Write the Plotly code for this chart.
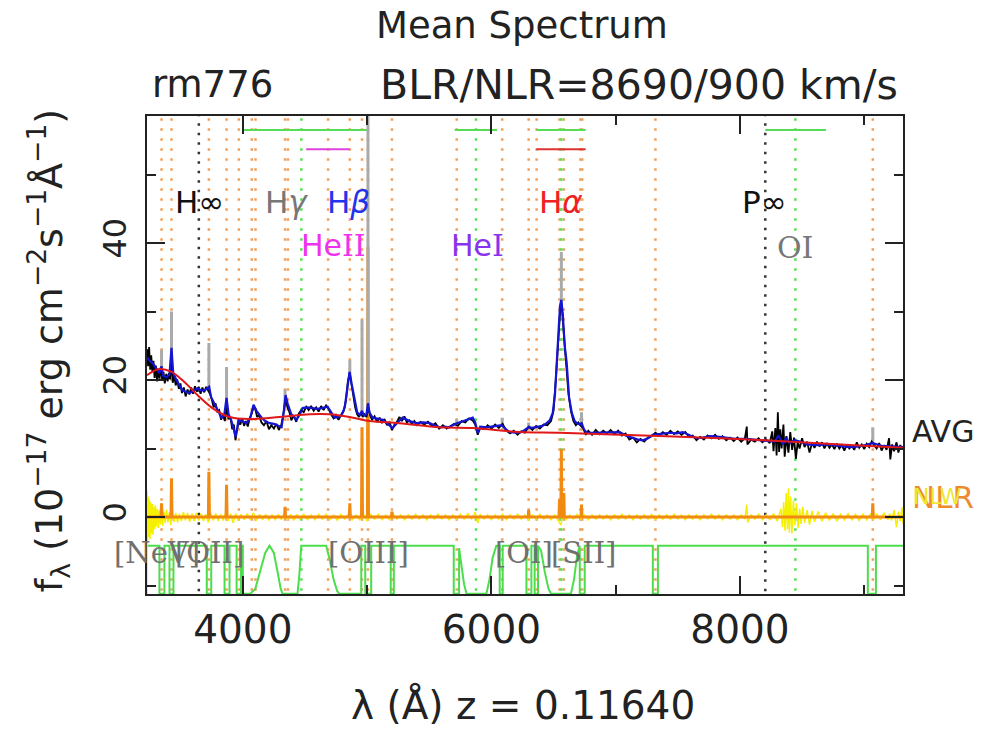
import plotly.graph_objects as go

# ---------------- data ----------------
# observed mean spectrum (AVG), rest-frame wavelength in Angstrom
avg_wave = [3229, 3238, 3246, 3255, 3263, 3272, 3281, 3290, 3300, 3310, 3320, 3330, 3340, 3352, 3362, 3372,
            3384, 3395, 3405, 3415, 3426, 3436, 3448, 3460, 3472, 3485, 3498, 3510, 3525, 3540, 3555, 3570,
            3585, 3600, 3615, 3630, 3645, 3660, 3675, 3690, 3705, 3720, 3735, 3750, 3765, 3780, 3795, 3810,
            3825, 3840, 3855, 3870, 3885, 3900, 3915, 3928, 3941, 3952, 3965, 3980, 3995, 4010, 4025, 4040,
            4055, 4070, 4086, 4100, 4115, 4130, 4150, 4170, 4190, 4210, 4230, 4250, 4270, 4290, 4310, 4325,
            4344, 4360, 4375, 4390, 4410, 4430, 4450, 4470, 4490, 4510, 4530, 4550, 4570, 4590, 4610, 4630,
            4650, 4670, 4690, 4710, 4730, 4750, 4770, 4790, 4810, 4830, 4845, 4860, 4875, 4890, 4905, 4920,
            4935, 4950, 4965, 4980, 4995, 5010, 5025, 5040, 5060, 5080, 5100, 5120, 5140, 5160, 5180, 5200,
            5220, 5240, 5260, 5280, 5300, 5320, 5340, 5360, 5380, 5400, 5430, 5460, 5490, 5520, 5550, 5580,
            5610, 5640, 5670, 5700, 5730, 5760, 5790, 5820, 5850, 5870, 5890, 5910, 5940, 5970, 6000, 6030,
            6060, 6090, 6120, 6150, 6180, 6210, 6240, 6270, 6300, 6330, 6360, 6390, 6420, 6450, 6480, 6500,
            6520, 6540, 6555, 6565, 6580, 6600, 6620, 6640, 6660, 6680, 6700, 6720, 6740, 6760, 6780, 6810,
            6840, 6870, 6900, 6930, 6960, 6990, 7020, 7050, 7080, 7110, 7140, 7170, 7200, 7230, 7260, 7290,
            7320, 7350, 7380, 7410, 7440, 7470, 7500, 7530, 7560, 7590, 7620, 7650, 7680, 7710, 7740, 7770,
            7800, 7830, 7860, 7890, 7920, 7950, 7980, 8010, 8040, 8055, 8060, 8090, 8120, 8150, 8180, 8210,
            8240, 8260, 8270, 8285, 8295, 8305, 8315, 8325, 8335, 8350, 8360, 8375, 8390, 8405, 8420, 8435,
            8450, 8465, 8480, 8500, 8520, 8540, 8560, 8580, 8600, 8620, 8640, 8660, 8680, 8700, 8720, 8740,
            8760, 8780, 8800, 8820, 8840, 8860, 8880, 8900, 8920, 8940, 8960, 8980, 9000, 9020, 9040, 9060,
            9080, 9100, 9120, 9140, 9160, 9180, 9200, 9210, 9225, 9240, 9260, 9275, 9290, 9305, 9312]
avg_flux = [24.5, 22.0, 24.8, 21.5, 23.6, 21.2, 22.8, 20.3, 22.1, 19.8, 21.6, 20.2, 21.9, 20.0, 21.2, 19.5,
            20.9, 19.8, 21.0, 20.1, 23.0, 19.6, 20.6, 19.2, 20.1, 18.7, 19.5, 18.1, 18.9, 17.6, 18.6, 17.9,
            18.9, 18.0, 19.1, 18.3, 19.0, 18.0, 18.9, 18.2, 19.0, 18.5, 18.0, 17.2, 16.0, 16.6, 15.4, 15.6,
            14.2, 14.9, 14.0, 16.0, 14.3, 14.6, 12.8, 13.5, 11.2, 12.6, 13.8, 13.5, 14.4, 13.3, 14.0, 13.2,
            14.4, 15.0, 16.0, 15.8, 14.6, 14.9, 13.8, 13.4, 14.0, 12.8, 13.4, 12.9, 13.6, 12.7, 13.5, 14.8,
            17.2, 16.0, 15.3, 14.1, 14.8, 13.9, 15.1, 15.6, 15.3, 16.1, 15.6, 16.2, 15.5, 16.0, 15.4, 16.2,
            15.6, 16.3, 15.8, 15.0, 14.4, 14.9, 14.2, 14.9, 15.4, 17.0, 19.8, 21.0, 19.3, 17.6, 15.9, 15.0,
            14.6, 15.2, 14.6, 15.0, 14.6, 16.0, 14.8, 14.2, 14.7, 13.9, 14.5, 13.8, 14.3, 13.4, 13.9, 12.7,
            13.5, 13.9, 14.6, 14.0, 14.7, 13.8, 14.1, 13.6, 14.0, 13.4, 13.9, 13.5, 13.9, 13.3, 13.7, 12.9,
            13.4, 12.9, 13.2, 13.6, 13.3, 14.0, 13.8, 14.4, 14.1, 13.5, 12.0, 13.0, 12.8, 13.4, 12.9, 13.5,
            13.0, 13.6, 12.6, 12.2, 12.6, 12.0, 12.5, 12.3, 13.2, 12.7, 13.3, 12.9, 13.5, 13.4, 14.0, 15.5,
            20.5, 27.0, 30.5, 31.0, 27.5, 23.0, 18.0, 15.5, 14.0, 13.4, 13.8, 13.3, 12.9, 12.0, 12.6, 12.0,
            12.7, 12.1, 12.6, 12.2, 12.7, 12.1, 12.6, 11.9, 12.2, 11.3, 11.6, 10.9, 11.4, 11.0, 11.6, 11.8,
            12.3, 11.9, 12.4, 12.0, 12.6, 12.1, 12.5, 12.0, 12.4, 11.7, 11.9, 11.2, 11.7, 11.3, 11.9, 11.5,
            12.0, 11.4, 11.8, 11.2, 11.6, 11.1, 11.6, 11.0, 11.5, 13.2, 10.6, 11.3, 11.0, 11.5, 10.9, 11.3,
            10.8, 12.5, 9.6, 13.0, 9.0, 15.3, 9.5, 12.8, 10.0, 13.5, 8.8, 11.8, 9.4, 12.4, 9.8, 11.6,
            8.5, 11.0, 10.0, 11.5, 10.2, 11.0, 9.4, 10.8, 10.1, 11.0, 10.3, 10.9, 10.0, 10.8, 10.1, 10.6,
            9.9, 10.7, 10.0, 10.5, 9.7, 10.6, 10.0, 10.4, 9.8, 10.9, 10.1, 10.6, 9.9, 10.7, 10.2, 11.0,
            10.4, 10.0, 10.8, 9.7, 10.5, 9.8, 11.5, 8.4, 10.6, 9.6, 10.9, 9.4, 10.5, 9.9, 10.3]

# smoothed model (continuum + broad lines)
model_wave = [3229, 3250, 3273, 3300, 3329, 3346, 3360, 3386, 3410, 3426, 3440, 3466, 3490, 3514, 3540, 3571,
              3600, 3635, 3660, 3692, 3715, 3729, 3745, 3770, 3788, 3810, 3829, 3850, 3869, 3885, 3905, 3925,
              3941, 3955, 3965, 3990, 4030, 4060, 4086, 4110, 4151, 4180, 4215, 4250, 4271, 4312, 4330, 4344,
              4360, 4390, 4432, 4460, 4481, 4520, 4561, 4600, 4634, 4682, 4710, 4738, 4770, 4795, 4820, 4840,
              4859, 4875, 4899, 4920, 4940, 4959, 4975, 4995, 5007, 5020, 5044, 5085, 5125, 5165, 5205, 5245,
              5286, 5340, 5398, 5450, 5503, 5540, 5584, 5620, 5660, 5700, 5721, 5760, 5800, 5850, 5870, 5890,
              5910, 5962, 6000, 6040, 6083, 6110, 6147, 6190, 6227, 6260, 6300, 6330, 6365, 6410, 6445, 6470,
              6494, 6512, 6526, 6540, 6552, 6563, 6575, 6590, 6606, 6625, 6647, 6670, 6687, 6710, 6727, 6745,
              6767, 6820, 6896, 6960, 7033, 7080, 7138, 7180, 7218, 7260, 7299, 7360, 7436, 7490, 7540, 7600,
              7653, 7700, 7760, 7838, 7900, 7960, 8055, 8120, 8216, 8280, 8310, 8345, 8370, 8400, 8440, 8482,
              8540, 8618, 8700, 8800, 8884, 8960, 9069, 9140, 9206, 9286, 9312]
model_flux = [23.3, 22.8, 22.5, 21.8, 21.0, 22.0, 20.6, 20.4, 20.8, 24.7, 21.0, 20.0, 19.3, 18.5, 18.3, 18.1,
              18.4, 18.8, 18.5, 18.5, 18.8, 19.0, 17.5, 16.6, 16.0, 15.2, 14.5, 14.8, 17.4, 15.0, 14.2, 13.0,
              11.7, 13.0, 14.2, 14.0, 13.7, 14.5, 16.4, 15.5, 14.5, 14.0, 13.7, 13.6, 13.4, 13.1, 15.5, 17.8,
              16.6, 15.0, 14.2, 15.0, 15.9, 16.0, 15.9, 15.8, 15.9, 16.1, 15.3, 14.5, 14.6, 14.9, 16.0, 18.5,
              21.2, 19.5, 17.1, 15.3, 14.9, 15.5, 14.8, 15.0, 16.6, 15.2, 14.5, 14.3, 14.2, 13.6, 13.0, 13.8,
              14.5, 14.0, 13.7, 13.8, 13.7, 13.4, 13.1, 13.2, 13.1, 13.5, 13.7, 13.9, 14.2, 14.5, 13.8, 12.3,
              13.2, 13.1, 13.2, 13.3, 13.4, 12.9, 12.4, 12.3, 12.3, 12.6, 13.1, 13.0, 13.1, 13.3, 13.7, 14.1,
              15.2, 18.0, 22.5, 27.5, 30.8, 31.7, 29.5, 25.0, 22.5, 17.5, 15.2, 14.0, 13.7, 13.5, 13.7, 12.8,
              12.3, 12.3, 12.3, 12.4, 12.4, 11.9, 11.5, 11.3, 11.2, 11.5, 12.0, 12.1, 12.3, 12.2, 12.4, 11.9,
              11.5, 11.6, 11.8, 11.7, 11.5, 11.4, 11.4, 11.3, 11.2, 11.0, 11.9, 10.6, 11.5, 10.8, 11.2, 11.0,
              10.6, 10.5, 10.6, 10.4, 10.2, 10.3, 10.8, 10.4, 10.3, 10.2, 10.2]

# fitted continuum
cont_wave = [3229, 3329, 3426, 3530, 3635, 3755, 3893, 4054, 4296, 4537, 4698, 4859, 5020, 5262, 5584,
             5850, 6227, 6550, 7033, 7838, 8200, 8884, 9312]
cont_flux = [20.7, 21.6, 21.2, 19.7, 17.8, 15.9, 14.6, 14.3, 14.6, 15.0, 15.0, 14.6, 14.0, 13.7, 13.1,
             13.0, 12.4, 12.3, 12.0, 11.5, 11.2, 10.5, 10.1]

# narrow emission lines: wavelength, base level, peak of model with narrow lines
narrow_wave = [3346, 3426, 3727, 3869, 4340, 4861, 4959, 5007, 5721, 6087, 6300, 6563, 6725, 9069]
narrow_base = [21.5, 21.5, 18.5, 15.5, 16.0, 20.0, 15.0, 15.0, 13.5, 13.2, 13.0, 31.0, 13.5, 10.6]
narrow_peak = [24.4, 30.0, 25.4, 21.9, 18.6, 22.9, 28.8, 62.0, 14.3, 14.5, 13.8, 38.7, 15.3, 13.1]

# NLR component: narrow line fluxes above zero
nlr_wave = [3346, 3426, 3727, 3869, 4340, 4861, 4959, 5007, 5200, 6300, 6548, 6563, 6583, 6725, 9069]
nlr_peak = [2.0, 5.6, 6.6, 4.7, 1.5, 2.0, 13.1, 39.5, 0.8, 1.0, 2.5, 9.9, 3.5, 1.8, 2.0]

# residual (yellow) around the NLR level
resid_wave = [3229, 3229, 3233, 3238, 3243, 3248, 3253, 3259, 3265, 3271, 3277, 3283, 3290, 3297, 3304, 3312,
              3320, 3328, 3337, 3346, 3355, 3365, 3375, 3386, 3397, 3409, 3420, 3433, 3446, 3460, 3475, 3490,
              3506, 3522, 3538, 3555, 3572, 3590, 3608, 3626, 3645, 3664, 3683, 3702, 3722, 3742, 3762, 3782,
              3802, 3822, 3842, 3862, 3882, 3902, 3922, 3942, 3962, 3985, 4010, 4035, 4060, 4085, 4110, 4135,
              4160, 4185, 4210, 4235, 4260, 4285, 4310, 4335, 4360, 4385, 4410, 4435, 4460, 4490, 4520, 4550,
              4580, 4610, 4640, 4670, 4700, 4730, 4760, 4790, 4820, 4850, 4880, 4910, 4940, 4970, 5000, 5030,
              5060, 5090, 5120, 5150, 5180, 5210, 5240, 5270, 5300, 5330, 5360, 5390, 5420, 5450, 5480, 5510,
              5540, 5570, 5600, 5630, 5660, 5690, 5720, 5750, 5780, 5810, 5840, 5870, 5890, 5910, 5940, 5970,
              6000, 6030, 6060, 6090, 6120, 6150, 6180, 6210, 6240, 6270, 6300, 6330, 6360, 6390, 6420, 6450,
              6480, 6510, 6540, 6560, 6575, 6600, 6630, 6660, 6690, 6720, 6750, 6780, 6810, 6840, 6870, 6900,
              6930, 6960, 6990, 7020, 7050, 7080, 7110, 7140, 7170, 7200, 7230, 7260, 7290, 7320, 7350, 7380,
              7410, 7440, 7470, 7500, 7530, 7560, 7590, 7620, 7650, 7680, 7710, 7740, 7770, 7800, 7830, 7860,
              7890, 7920, 7950, 7980, 8010, 8040, 8055, 8062, 8090, 8120, 8150, 8180, 8210, 8240, 8270, 8300,
              8330, 8342, 8352, 8362, 8372, 8382, 8390, 8398, 8408, 8418, 8430, 8442, 8455, 8468, 8480, 8492,
              8505, 8520, 8540, 8560, 8580, 8600, 8630, 8660, 8690, 8720, 8750, 8780, 8810, 8840, 8870, 8900,
              8930, 8960, 8990, 9020, 9050, 9075, 9100, 9130, 9160, 9190, 9205, 9220, 9240, 9260, 9275, 9290,
              9305, 9312, 9312]
resid_flux = [-12.0, 3.9, -3.6, 3.0, -2.9, 2.6, -3.2, 2.2, -2.4, 1.9, -2.6, 1.5, -1.8, 1.7, -1.4, 1.2,
              -1.6, 1.0, -1.1, 0.9, -1.3, 0.8, -0.9, 1.1, -0.8, 0.7, -1.2, 0.9, -0.7, 0.6, -0.8, 0.5,
              -0.6, 0.7, -0.5, 0.6, -0.7, 0.5, -0.6, 0.6, -0.5, 0.5, -0.6, 0.4, -0.8, 0.6, -0.5, 0.5,
              -0.6, 0.4, -0.5, 0.6, -0.6, 0.5, -0.9, 0.5, -0.5, 0.4, -0.4, 0.5, -0.4, 0.6, -0.5, 0.4,
              -0.4, 0.4, -0.5, 0.3, -0.4, 0.4, -0.4, 0.6, -0.4, 0.4, -0.5, 0.4, -0.3, 0.4, -0.4, 0.3,
              -0.4, 0.4, -0.3, 0.4, -0.4, 0.3, -0.5, 0.4, -0.3, 0.5, -0.4, 0.3, -0.4, 0.4, -0.6, 0.4,
              -0.3, 0.4, -0.4, 0.3, -0.4, 0.4, -0.3, 0.3, -0.4, 0.3, -0.3, 0.4, -0.3, 0.3, -0.4, 0.3,
              -0.3, 0.4, -0.3, 0.3, -0.4, 0.3, -0.3, 0.4, -0.3, 0.5, -0.3, 0.7, -0.9, 0.4, -0.3, 0.3,
              -0.4, 0.3, -0.3, 0.4, -0.4, 0.3, -0.3, 0.4, -0.3, 0.3, -0.4, 0.3, -0.3, 0.4, -0.3, 0.3,
              -0.4, 0.3, -0.5, -1.2, 0.6, -0.4, 0.3, -0.3, 0.4, -0.3, 0.3, -0.4, 0.3, -0.3, 0.3, -0.3,
              0.3, -0.4, 0.3, -0.3, 0.4, -0.3, 0.3, -0.4, 0.3, -0.3, 0.3, -0.3, 0.4, -0.4, 0.3, -0.3,
              0.3, -0.3, 0.4, -0.3, 0.3, -0.4, 0.3, -0.3, 0.3, -0.4, 0.3, -0.3, 0.4, -0.3, 0.3, -0.4,
              0.3, -0.3, 0.3, -0.4, 0.3, -0.3, 1.8, -0.8, 0.3, -0.3, 0.4, -0.4, 0.3, -0.4, 0.5, -0.6,
              1.2, -1.5, 2.2, -2.0, 3.5, -1.8, 4.2, -2.3, 3.0, -2.4, 2.4, -1.2, 2.0, -1.6, 1.2, -1.0,
              1.5, -0.9, 1.0, -1.1, 0.9, -0.7, 0.8, -0.6, 0.6, -0.5, 0.5, -0.6, 0.4, -0.4, 0.5, -0.4,
              0.4, -0.5, 0.4, -0.4, 0.5, -0.4, 0.5, -0.4, 0.6, -0.4, 0.5, -0.5, 1.0, -1.5, 0.8, -0.6,
              1.4, -1.0, 0.6, -0.5, 15.2, -12.0]

# fitting mask (1 = used, 0 = masked)
mask_wave = [3229, 3329, 3329, 3369, 3369, 3410, 3410, 3442, 3442, 3710, 3710, 3746, 3746, 3853, 3853, 3893,
             3893, 3950, 3950, 3985, 3985, 4000, 4000, 4060, 4100, 4140, 4180, 4215, 4250, 4280, 4305, 4320,
             4440, 4455, 4470, 4671, 4700, 4730, 4760, 4778, 4953, 4953, 4985, 4985, 5033, 5033, 5190, 5190,
             5215, 5215, 5697, 5697, 5740, 5740, 5760, 5780, 5800, 5960, 5985, 6010, 6040, 6067, 6067, 6091,
             6091, 6282, 6282, 6322, 6322, 6348, 6348, 6375, 6375, 6400, 6430, 6460, 6480, 6640, 6665, 6690,
             6711, 6711, 6751, 6751, 7299, 7299, 7340, 7340, 9029, 9029, 9094, 9094, 9312]
mask_val = [1, 1, 0, 0, 1, 1, 0, 0, 1, 1, 0, 0, 1, 1, 0, 0,
            1, 1, 0, 0, 1, 1, 0, 0, 0.1, 0.45, 0.85, 1.0, 0.85, 0.45, 0.1, 0,
            0, 0.4, 1, 1, 0.7, 0.3, 0.05, 0, 0, 1, 1, 0, 0, 1, 1, 0,
            0, 1, 1, 0, 0, 0.95, 0.6, 0.2, 0, 0, 0.3, 0.75, 1, 1, 0, 0,
            1, 1, 0, 0, 1, 1, 0, 0, 1, 0.9, 0.45, 0.1, 0, 0, 0.3, 0.8,
            1, 0, 0, 1, 1, 0, 0, 1, 1, 0, 0, 1, 1]

# line markers
orange_lines = [3346, 3426, 3727, 3869, 3968, 4072, 4102, 4340, 4363, 4686, 4861, 4959, 5007, 5200, 5721,
                6087, 6300, 6364, 6548, 6583, 6716, 6731, 7320, 9069]
green_lines = [4471, 5876, 6563, 8446]
limit_lines = [3646, 8204]

# line-fitting windows at the top
green_windows = [(4000, 5007), (5705, 6045), (6362, 6759), (8204, 8692)]
heii_window = (4510, 4859)
halpha_window = (6362, 6759)

X_RANGE = [3229, 9312]
Y_RANGE = [-11.24, 58.54]
FONT = "DejaVu Sans"
ROMAN = "DejaVu Serif"


def roman(s):
    return '<span style="font-family:%s">%s</span>' % (ROMAN, s)


fig = go.Figure()


def vlines(waves, color, dash, width):
    xs, ys = [], []
    for w in waves:
        xs += [w, w, None]
        ys += [Y_RANGE[0] - 1, Y_RANGE[1] + 1, None]
    fig.add_trace(go.Scatter(x=xs, y=ys, mode="lines", hoverinfo="skip",
                             line=dict(color=color, width=width, dash=dash)))


vlines(orange_lines, "#F2A05A", "2.5px,7.5px", 2.5)
vlines(green_lines, "#55E055", "2.5px,7.5px", 2.5)
vlines(limit_lines, "#333333", "2.5px,7px", 2.5)


def hbars(windows, level, color):
    xs, ys = [], []
    for a, b in windows:
        xs += [a, b, None]
        ys += [level, level, None]
    fig.add_trace(go.Scatter(x=xs, y=ys, mode="lines", hoverinfo="skip",
                             line=dict(color=color, width=2)))


hbars(green_windows, 56.5, "#55DD55")
hbars([heii_window], 53.7, "#DD44DD")
hbars([halpha_window], 53.7, "#DD3333")

# mask curve drawn in the bottom strip
MASK_LO, MASK_HI = -11.2, -4.2
fig.add_trace(go.Scatter(x=mask_wave, y=[MASK_LO + (MASK_HI - MASK_LO) * m for m in mask_val],
                         mode="lines", hoverinfo="skip", line=dict(color="#4CDD4C", width=2)))

# residuals and NLR component
fig.add_trace(go.Scatter(x=resid_wave, y=resid_flux, mode="lines", hoverinfo="skip",
                         line=dict(color="#F5F000", width=1.5)))
nx, ny = [X_RANGE[0]], [0]
for w, p in zip(nlr_wave, nlr_peak):
    nx += [w - 4, w, w + 4]
    ny += [0, p, 0]
nx.append(X_RANGE[1])
ny.append(0)
fig.add_trace(go.Scatter(x=nx, y=ny, mode="lines", hoverinfo="skip",
                         line=dict(color="#F08A10", width=3)))

# narrow-line model
gx, gy = [], []
for w, b, p in zip(narrow_wave, narrow_base, narrow_peak):
    gx += [w, w, None]
    gy += [b, p, None]
fig.add_trace(go.Scatter(x=gx, y=gy, mode="lines", hoverinfo="skip",
                         line=dict(color="#AAAAAA", width=3)))

fig.add_trace(go.Scatter(x=avg_wave, y=avg_flux, mode="lines", hoverinfo="skip",
                         line=dict(color="#000000", width=1.8)))
fig.add_trace(go.Scatter(x=model_wave, y=model_flux, mode="lines", hoverinfo="skip",
                         line=dict(color="#1414D2", width=2.2)))
fig.add_trace(go.Scatter(x=cont_wave, y=cont_flux, mode="lines", line_shape="spline",
                         hoverinfo="skip", line=dict(color="#E01818", width=2)))

# ---------------- labels ----------------
line_labels = [
    ("H∞", 3651, 46.0, "#111111", 31),
    ("H<i>γ</i>", 4352, 46.0, "#777777", 31),
    ("H<i>β</i>", 4852, 46.0, "#2233EE", 31),
    ("He" + roman("II"), 4732, 39.7, "#EE33EE", 30),
    ("He" + roman("I"), 5891, 39.7, "#8833EE", 30),
    ("H<i>α</i>", 6558, 46.0, "#EE2222", 31),
    ("P∞", 8200, 46.0, "#111111", 31),
    (roman("OI"), 8441, 39.3, "#777777", 30),
]
for txt, x, y, c, s in line_labels:
    fig.add_annotation(x=x, y=y, xref="x", yref="y", text=txt, showarrow=False,
                       xanchor="center", yanchor="middle",
                       font=dict(family=FONT, size=s, color=c))

forbidden_labels = [("[NeV]", 3312), ("[OII]", 3732), ("[OIII]", 5013), ("[OI]", 6262), ("[SII]", 6740)]
for txt, x in forbidden_labels:
    fig.add_annotation(x=x, y=-5.3, xref="x", yref="y", text=txt, showarrow=False,
                       xanchor="center", yanchor="middle",
                       font=dict(family=ROMAN, size=29, color="#707070"))


def paper_text(x, y, txt, size, color="#222222", xanchor="center", angle=0, family=FONT):
    fig.add_annotation(x=x, y=y, xref="paper", yref="paper", text=txt, showarrow=False,
                       xanchor=xanchor, yanchor="middle", textangle=angle,
                       font=dict(family=family, size=size, color=color))


paper_text(0.496, 1.19, "Mean Spectrum", 37)
paper_text(0.004, 1.065, "rm776", 37, xanchor="left")
paper_text(0.996, 1.065, "BLR/NLR=8690/900 km/s", 41, xanchor="right")
paper_text(0.497, -0.232, "λ (Å) z = 0.11640", 39)
paper_text(-0.131, 0.51,
           "f<sub>λ</sub> (10<sup>−17</sup> erg cm<sup>−2</sup>s<sup>−1</sup>Å<sup>−1</sup>)",
           38, angle=-90)
paper_text(1.009, 0.339, "AVG", 30, xanchor="left")
paper_text(1.009, 0.203, "NLR", 31, color="#F08A30", xanchor="left")
paper_text(1.010, 0.203, "NLW", 22, color="#EDE830", xanchor="left")

axis_common = dict(showline=True, linecolor="#222222", linewidth=2, mirror="allticks",
                   ticks="inside", ticklen=18, tickwidth=2, tickcolor="#222222",
                   showgrid=False, zeroline=False)
fig.update_xaxes(range=X_RANGE, tickvals=[4000, 6000, 8000], ticktext=["4000", "6000", "8000"],
                 minor=dict(tickvals=[5000, 7000, 9000], ticks="inside", ticklen=9, tickwidth=2,
                            tickcolor="#222222", showgrid=False),
                 tickfont=dict(family=FONT, size=39, color="#222222"), **axis_common)
fig.update_yaxes(range=Y_RANGE, tickvals=[0, 20, 40], ticktext=["0", "20", "40"], tickangle=-90,
                 ticklabelstandoff=6,
                 minor=dict(tickvals=[-10, 10, 30, 50], ticks="inside", ticklen=9, tickwidth=2,
                            tickcolor="#222222", showgrid=False),
                 tickfont=dict(family=FONT, size=32, color="#222222"), **axis_common)

fig.update_layout(width=998, height=729, showlegend=False,
                  margin=dict(l=147, r=95, t=116, b=135),
                  paper_bgcolor="white", plot_bgcolor="white")

fig.write_html("out.html")
